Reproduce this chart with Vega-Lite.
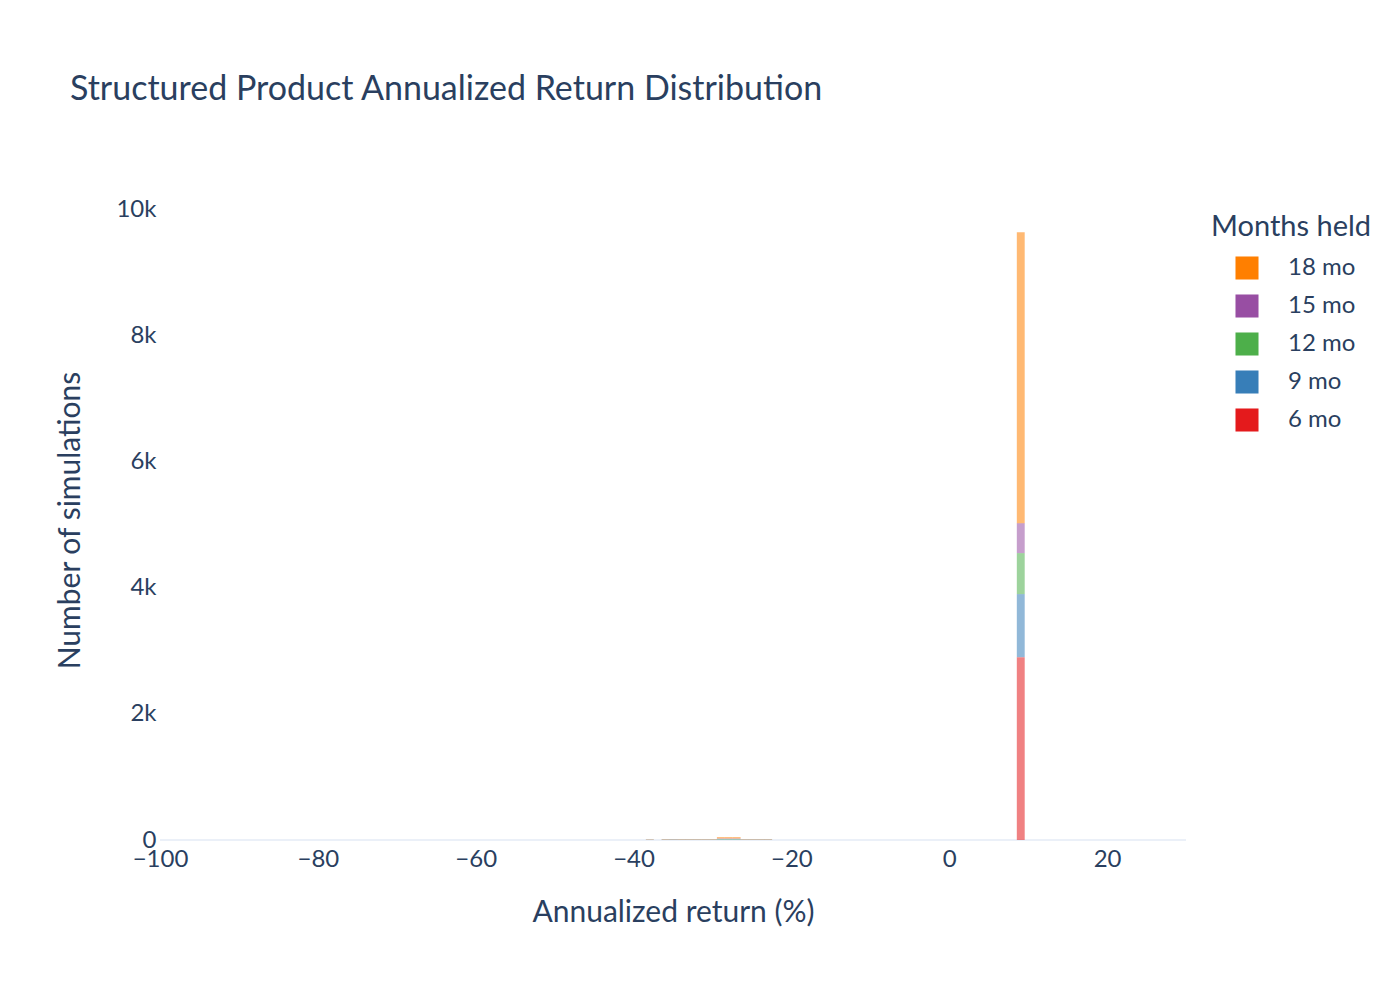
{
  "$schema": "https://vega.github.io/schema/vega-lite/v6.json",
  "width": 1026,
  "height": 640,
  "autosize": {"type": "none"},
  "padding": {"left": 160, "top": 200, "right": 214, "bottom": 160},
  "background": "white",
  "title": {
    "text": "Structured Product Annualized Return Distribution",
    "anchor": "start",
    "frame": "group",
    "dx": -90,
    "offset": 90,
    "fontSize": 34,
    "fontWeight": "normal",
    "color": "#2a3f5f",
    "font": "Lato"
  },
  "config": {
    "font": "Lato",
    "view": {"stroke": null},
    "axis": {
      "labelColor": "#2a3f5f",
      "titleColor": "#2a3f5f",
      "labelFontSize": 24,
      "titleFontSize": 30,
      "titleFontWeight": "normal",
      "ticks": false,
      "domain": false
    },
    "legend": {
      "titleColor": "#2a3f5f",
      "labelColor": "#2a3f5f",
      "titleFontSize": 29,
      "titleFontWeight": "normal",
      "labelFontSize": 24
    }
  },
  "data": {
    "values": [
      {"lo": -38.5, "hi": -37.5, "months": 9, "label": "9 mo", "n": 6},
      {"lo": -38.5, "hi": -37.5, "months": 18, "label": "18 mo", "n": 6},

      {"lo": -36.5, "hi": -35.5, "months": 9, "label": "9 mo", "n": 4},
      {"lo": -36.5, "hi": -35.5, "months": 12, "label": "12 mo", "n": 3},
      {"lo": -36.5, "hi": -35.5, "months": 15, "label": "15 mo", "n": 3},
      {"lo": -36.5, "hi": -35.5, "months": 18, "label": "18 mo", "n": 6},
      {"lo": -35.5, "hi": -34.5, "months": 9, "label": "9 mo", "n": 4},
      {"lo": -35.5, "hi": -34.5, "months": 12, "label": "12 mo", "n": 3},
      {"lo": -35.5, "hi": -34.5, "months": 15, "label": "15 mo", "n": 3},
      {"lo": -35.5, "hi": -34.5, "months": 18, "label": "18 mo", "n": 6},
      {"lo": -34.5, "hi": -33.5, "months": 9, "label": "9 mo", "n": 4},
      {"lo": -34.5, "hi": -33.5, "months": 12, "label": "12 mo", "n": 3},
      {"lo": -34.5, "hi": -33.5, "months": 15, "label": "15 mo", "n": 3},
      {"lo": -34.5, "hi": -33.5, "months": 18, "label": "18 mo", "n": 6},
      {"lo": -33.5, "hi": -32.5, "months": 9, "label": "9 mo", "n": 4},
      {"lo": -33.5, "hi": -32.5, "months": 12, "label": "12 mo", "n": 3},
      {"lo": -33.5, "hi": -32.5, "months": 15, "label": "15 mo", "n": 3},
      {"lo": -33.5, "hi": -32.5, "months": 18, "label": "18 mo", "n": 6},
      {"lo": -32.5, "hi": -31.5, "months": 9, "label": "9 mo", "n": 4},
      {"lo": -32.5, "hi": -31.5, "months": 12, "label": "12 mo", "n": 3},
      {"lo": -32.5, "hi": -31.5, "months": 15, "label": "15 mo", "n": 3},
      {"lo": -32.5, "hi": -31.5, "months": 18, "label": "18 mo", "n": 6},
      {"lo": -31.5, "hi": -30.5, "months": 9, "label": "9 mo", "n": 4},
      {"lo": -31.5, "hi": -30.5, "months": 12, "label": "12 mo", "n": 3},
      {"lo": -31.5, "hi": -30.5, "months": 15, "label": "15 mo", "n": 3},
      {"lo": -31.5, "hi": -30.5, "months": 18, "label": "18 mo", "n": 6},
      {"lo": -30.5, "hi": -29.5, "months": 9, "label": "9 mo", "n": 4},
      {"lo": -30.5, "hi": -29.5, "months": 12, "label": "12 mo", "n": 3},
      {"lo": -30.5, "hi": -29.5, "months": 15, "label": "15 mo", "n": 3},
      {"lo": -30.5, "hi": -29.5, "months": 18, "label": "18 mo", "n": 6},

      {"lo": -29.5, "hi": -28.5, "months": 9, "label": "9 mo", "n": 8},
      {"lo": -29.5, "hi": -28.5, "months": 12, "label": "12 mo", "n": 8},
      {"lo": -29.5, "hi": -28.5, "months": 15, "label": "15 mo", "n": 8},
      {"lo": -29.5, "hi": -28.5, "months": 18, "label": "18 mo", "n": 22},
      {"lo": -28.5, "hi": -27.5, "months": 9, "label": "9 mo", "n": 8},
      {"lo": -28.5, "hi": -27.5, "months": 12, "label": "12 mo", "n": 8},
      {"lo": -28.5, "hi": -27.5, "months": 15, "label": "15 mo", "n": 8},
      {"lo": -28.5, "hi": -27.5, "months": 18, "label": "18 mo", "n": 22},
      {"lo": -27.5, "hi": -26.5, "months": 9, "label": "9 mo", "n": 8},
      {"lo": -27.5, "hi": -26.5, "months": 12, "label": "12 mo", "n": 8},
      {"lo": -27.5, "hi": -26.5, "months": 15, "label": "15 mo", "n": 8},
      {"lo": -27.5, "hi": -26.5, "months": 18, "label": "18 mo", "n": 22},

      {"lo": -26.5, "hi": -25.5, "months": 9, "label": "9 mo", "n": 4},
      {"lo": -26.5, "hi": -25.5, "months": 12, "label": "12 mo", "n": 3},
      {"lo": -26.5, "hi": -25.5, "months": 15, "label": "15 mo", "n": 3},
      {"lo": -26.5, "hi": -25.5, "months": 18, "label": "18 mo", "n": 6},
      {"lo": -25.5, "hi": -24.5, "months": 9, "label": "9 mo", "n": 4},
      {"lo": -25.5, "hi": -24.5, "months": 12, "label": "12 mo", "n": 3},
      {"lo": -25.5, "hi": -24.5, "months": 15, "label": "15 mo", "n": 3},
      {"lo": -25.5, "hi": -24.5, "months": 18, "label": "18 mo", "n": 6},
      {"lo": -24.5, "hi": -23.5, "months": 9, "label": "9 mo", "n": 4},
      {"lo": -24.5, "hi": -23.5, "months": 12, "label": "12 mo", "n": 3},
      {"lo": -24.5, "hi": -23.5, "months": 15, "label": "15 mo", "n": 3},
      {"lo": -24.5, "hi": -23.5, "months": 18, "label": "18 mo", "n": 6},
      {"lo": -23.5, "hi": -22.5, "months": 9, "label": "9 mo", "n": 4},
      {"lo": -23.5, "hi": -22.5, "months": 12, "label": "12 mo", "n": 3},
      {"lo": -23.5, "hi": -22.5, "months": 15, "label": "15 mo", "n": 3},
      {"lo": -23.5, "hi": -22.5, "months": 18, "label": "18 mo", "n": 6},

      {"lo": 8.5, "hi": 9.5, "months": 6, "label": "6 mo", "n": 2900},
      {"lo": 8.5, "hi": 9.5, "months": 9, "label": "9 mo", "n": 1000},
      {"lo": 8.5, "hi": 9.5, "months": 12, "label": "12 mo", "n": 650},
      {"lo": 8.5, "hi": 9.5, "months": 15, "label": "15 mo", "n": 475},
      {"lo": 8.5, "hi": 9.5, "months": 18, "label": "18 mo", "n": 4615}
    ]
  },
  "layer": [
    {
      "mark": {"type": "rule", "color": "#ebf0f8", "strokeWidth": 2},
      "encoding": {"y": {"datum": 0, "type": "quantitative"}}
    },
    {
      "mark": {"type": "bar", "opacity": 0.55, "binSpacing": 0},
      "encoding": {
        "x": {
          "field": "lo",
          "type": "quantitative",
          "bin": "binned",
          "scale": {"domain": [-100, 30], "nice": false, "zero": false},
          "axis": {"values": [-100, -80, -60, -40, -20, 0, 20], "grid": false, "labelFlush": false, "labelPadding": 7, "titlePadding": 26},
          "title": "Annualized return (%)"
        },
        "x2": {"field": "hi"},
        "y": {
          "field": "n",
          "type": "quantitative",
          "aggregate": "sum",
          "stack": "zero",
          "scale": {"domain": [0, 10150], "nice": false},
          "axis": {
            "values": [0, 2000, 4000, 6000, 8000, 10000],
            "labelExpr": "datum.value === 0 ? '0' : (datum.value / 1000) + 'k'",
            "labelFlush": false,
            "gridColor": "#ebf0f8",
            "gridWidth": 2,
            "labelPadding": 4,
            "titlePadding": 30
          },
          "title": "Number of simulations"
        },
        "color": {
          "field": "label",
          "type": "nominal",
          "scale": {
            "domain": ["18 mo", "15 mo", "12 mo", "9 mo", "6 mo"],
            "range": ["#ff7f00", "#984ea3", "#4daf4a", "#377eb8", "#e41a1c"]
          },
          "legend": {
            "title": "Months held",
            "orient": "none",
            "legendX": 1051,
            "legendY": 13,
            "symbolType": "square",
            "symbolSize": 530,
            "symbolOpacity": 1,
            "symbolStrokeWidth": 0,
            "symbolOffset": 24,
            "rowPadding": 14,
            "labelOffset": 29,
            "titlePadding": 14,
            "padding": 0
          }
        },
        "order": {"field": "months", "type": "quantitative", "sort": "ascending"}
      }
    }
  ]
}
